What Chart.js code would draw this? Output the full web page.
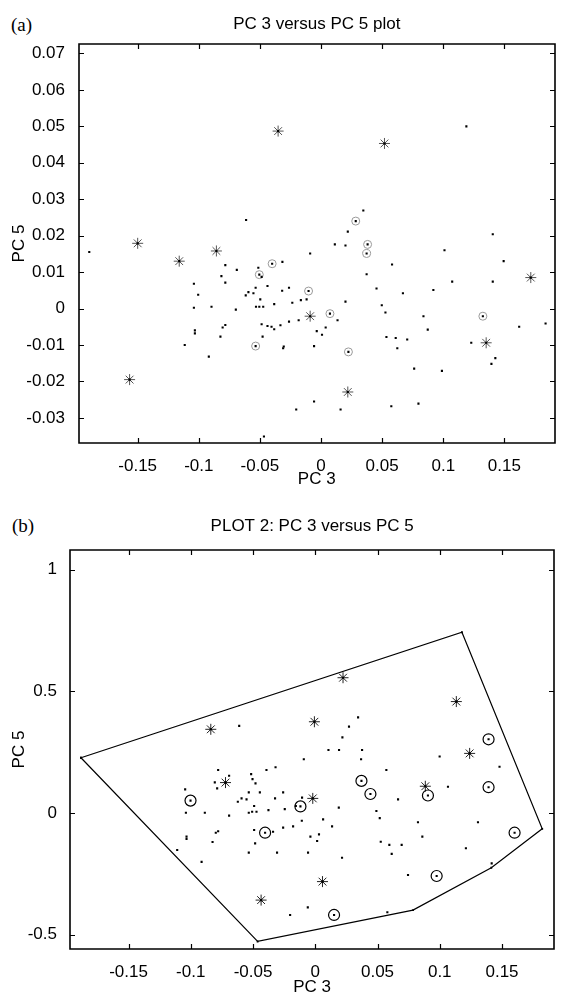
<!DOCTYPE html>
<html><head><meta charset="utf-8">
<script src="https://cdn.jsdelivr.net/npm/chart.js@4"></script>
<style>
html,body{margin:0;padding:0;background:#fff;}
body{width:561px;height:999px;position:relative;overflow:hidden;}
.wrap{position:absolute;left:0;width:561px;}
.tag{position:absolute;font-family:"Liberation Serif","Times New Roman",serif;font-size:19px;color:#000;line-height:1;}
</style></head><body>
<div class="tag" style="left:11px;top:15px">(a)</div>
<div class="wrap" style="top:0;height:490px"><canvas id="ca" width="561" height="490"></canvas></div>
<div class="tag" style="left:12px;top:516px">(b)</div>
<div class="wrap" style="top:490px;height:509px"><canvas id="cb" width="561" height="509"></canvas></div>
<script>
// ---------- Plot (a) data ----------
const aTitle = 'PC 3 versus PC 5 plot';
const aXTicks = [-0.15, -0.1, -0.05, 0, 0.05, 0.1, 0.15];
const aXLabels = ['-0.15', '-0.1', '-0.05', '0', '0.05', '0.1', '0.15'];
const aYTicks = [-0.03, -0.02, -0.01, 0, 0.01, 0.02, 0.03, 0.04, 0.05, 0.06, 0.07];
const aYLabels = ['-0.03', '-0.02', '-0.01', '0', '0.01', '0.02', '0.03', '0.04', '0.05', '0.06', '0.07'];
const aStars = [[-0.150,0.0179],[-0.116,0.0130],[-0.0856,0.0158],[-0.1566,-0.0195],[-0.0351,0.0487],
  [0.0519,0.0453],[0.1716,0.0085],[-0.0089,-0.0021],[0.1351,-0.0094],[0.0219,-0.0229]];
const aCircled = [[-0.0535,-0.0103],[-0.0505,0.0093],[-0.040,0.0123],[0.0284,0.0240],[0.0381,0.0176],
  [0.0373,0.0151],[-0.0102,0.0048],[0.0073,-0.0014],[0.0224,-0.0119],[0.1324,-0.0021]];
const aDots = [[-0.1896,0.0155],[-0.0613,0.0243],[-0.0783,0.0119],[-0.0815,0.0089],[-0.0783,0.0071],
  [-0.0689,0.0106],[-0.104,0.0068],[-0.1005,0.0038],[-0.104,0.0002],[-0.0896,0.0005],[-0.0697,-0.0003],
  [-0.1032,-0.0060],[-0.1032,-0.0068],[-0.1115,-0.0100],[-0.0783,-0.0045],[-0.0805,-0.0052],[-0.0823,-0.0077],
  [-0.0918,-0.0132],[-0.0486,0.0087],[-0.0513,0.0112],[-0.0438,0.0062],[-0.0535,0.0057],[-0.0594,0.0045],
  [-0.0616,0.0036],[-0.0553,0.0042],[-0.0497,0.0025],[-0.0532,0.0005],[-0.0505,0.0005],[-0.0473,0.0005],
  [-0.0383,0.0012],[-0.0486,-0.0043],[-0.0438,-0.0048],[-0.0405,-0.0050],[-0.0383,-0.0057],[-0.0478,-0.0077],
  [-0.0467,-0.0351],[0.0219,0.0211],[0.0113,0.0176],[0.0200,0.0173],[-0.0089,0.0151],[-0.0316,0.0128],
  [0.0373,0.0094],[0.0581,0.0121],[0.1010,0.0160],[0.1405,0.0204],[0.1494,0.0130],[0.1073,0.0074],
  [0.1405,0.0074],[0.0919,0.0051],[0.0670,0.0042],[0.0454,0.0055],[-0.0318,0.0049],[-0.0262,0.0057],
  [-0.0118,0.0025],[-0.0165,0.0023],[-0.0235,0.0016],[0.0200,0.0019],[0.0497,0.0009],[0.0527,-0.0011],
  [0.0135,-0.0032],[0.0038,-0.0052],[-0.0035,-0.0062],[0.0008,-0.0072],[-0.0183,-0.0032],[-0.0262,-0.0036],
  [-0.0332,-0.0046],[-0.0305,-0.0104],[-0.0310,-0.0109],[-0.0057,-0.0103],[0.0535,-0.0078],[0.0611,-0.0081],
  [0.0705,-0.0085],[0.0624,-0.0109],[0.0838,-0.0021],[0.0873,-0.0058],[0.0762,-0.0165],[0.0989,-0.0171],
  [0.1229,-0.0094],[0.1426,-0.0136],[0.1394,-0.0152],[0.1621,-0.0050],[0.1837,-0.0041],[-0.0057,-0.0255],
  [-0.0203,-0.0277],[0.0160,-0.0277],[0.0575,-0.0268],[0.0797,-0.0261],[0.1189,0.0500],[0.0346,0.0269]];

// ---------- Plot (b) data ----------
const bTitle = 'PLOT 2: PC 3 versus PC 5';
const bXTicks = [-0.15, -0.1, -0.05, 0, 0.05, 0.1, 0.15];
const bXLabels = ['-0.15', '-0.1', '-0.05', '0', '0.05', '0.1', '0.15'];
const bYTicks = [-0.5, 0, 0.5, 1];
const bYLabels = ['-0.5', '0', '0.5', '1'];
const bHull = [[-0.1882,0.227],[0.1178,0.743],[0.1823,-0.065],[0.1414,-0.225],[0.0785,-0.399],
  [-0.0463,-0.528],[-0.1882,0.227]];
const bStars = [[-0.0839,0.344],[-0.0007,0.375],[0.0223,0.556],[0.1133,0.458],[-0.0721,0.125],
  [0.124,0.245],[0.0884,0.110],[-0.002,0.060],[0.0058,-0.282],[-0.0435,-0.358]];
const bCircled = [[-0.1002,0.051],[0.1392,0.303],[0.0371,0.132],[0.1392,0.106],[0.0443,0.078],
  [0.0905,0.072],[-0.0119,0.027],[-0.0403,-0.081],[0.1601,-0.081],[0.0975,-0.259],[0.0151,-0.419]];
const bDots = [[-0.0611,0.358],[0.0106,0.259],[0.0191,0.259],[0.0376,0.259],[-0.0092,0.221],[-0.0319,0.188],
  [-0.0392,0.177],[-0.0515,0.160],[-0.0504,0.139],[-0.048,0.122],[-0.078,0.177],[-0.0692,0.153],
  [-0.0807,0.126],[-0.0788,0.101],[-0.1045,0.097],[0.0344,0.393],[0.0271,0.355],[0.0218,0.311],
  [0.0368,0.221],[0.0571,0.177],[0.0999,0.232],[0.148,0.190],[0.1066,0.108],[-0.1039,0.001],
  [-0.0887,0.001],[-0.0692,-0.011],[-0.0534,0.085],[-0.0445,0.085],[-0.0258,0.085],[-0.0592,0.060],
  [-0.0622,0.046],[-0.0552,0.056],[-0.0491,0.029],[-0.0534,0.001],[-0.0507,0.005],[-0.0472,0.005],
  [-0.0376,0.012],[-0.0323,0.060],[-0.0245,0.016],[-0.0156,0.029],[-0.0106,0.063],[0.0189,0.022],
  [-0.0108,-0.032],[0.0063,-0.026],[0.0135,-0.055],[-0.0178,-0.055],[-0.0258,-0.060],[-0.0339,-0.077],
  [-0.0491,-0.070],[-0.0039,-0.097],[0.003,-0.088],[0.0015,-0.115],[-0.0483,-0.125],[-0.078,-0.075],
  [-0.0799,-0.081],[-0.1034,-0.097],[-0.1034,-0.107],[-0.0825,-0.119],[-0.1109,-0.152],[-0.0913,-0.201],
  [-0.0534,-0.163],[-0.0307,-0.163],[-0.0058,-0.163],[-0.006,-0.388],[-0.0202,-0.419],[0.0665,0.056],
  [0.0491,0.008],[0.0518,-0.021],[0.0825,-0.038],[0.086,-0.097],[0.1307,-0.038],[0.0526,-0.118],
  [0.0595,-0.131],[0.0694,-0.131],[0.0614,-0.168],[0.0215,-0.184],[0.121,-0.145],[0.1417,-0.207],
  [0.0745,-0.255],[0.0579,-0.408]];

// ---------- helpers ----------
const FONT = '"Liberation Sans", Arial, Helvetica, sans-serif';
const pts = arr => arr.map(p => ({x: p[0], y: p[1]}));

// MATLAB-style box with inward tick marks on all four sides
const boxTicks = {
  id: 'boxTicks',
  afterDraw(chart) {
    const ctx = chart.ctx, a = chart.chartArea, x = chart.scales.x, y = chart.scales.y;
    const L = 5;
    const l = Math.round(a.left), r = Math.round(a.right), t = Math.round(a.top), b = Math.round(a.bottom);
    ctx.save();
    ctx.strokeStyle = '#000';
    ctx.lineWidth = 1.6;
    ctx.lineCap = 'square';
    ctx.beginPath();
    ctx.moveTo(l, t); ctx.lineTo(r, t); ctx.lineTo(r, b); ctx.lineTo(l, b); ctx.closePath();
    ctx.stroke();
    ctx.lineWidth = 1.2;
    ctx.lineCap = 'butt';
    ctx.beginPath();
    x.ticks.forEach(tk => {
      const px = Math.round(x.getPixelForValue(tk.value)) + 0.5;
      ctx.moveTo(px, b); ctx.lineTo(px, b - L);
      ctx.moveTo(px, t); ctx.lineTo(px, t + L);
    });
    y.ticks.forEach(tk => {
      const py = Math.round(y.getPixelForValue(tk.value)) + 0.5;
      ctx.moveTo(l, py); ctx.lineTo(l + L, py);
      ctx.moveTo(r, py); ctx.lineTo(r - L, py);
    });
    ctx.stroke();
    ctx.restore();
  }
};

function makeChart(id, cfg) {
  const datasets = [];
  if (cfg.hull) {
    datasets.push({type: 'line', data: pts(cfg.hull), showLine: true, borderColor: '#000', borderWidth: 1.2,
      fill: false, tension: 0, pointRadius: 1.3, pointStyle: 'rect', pointBackgroundColor: '#000', pointBorderWidth: 0});
  }
  datasets.push({data: pts(cfg.dots.concat(cfg.circled, cfg.stars)), pointStyle: 'rect', pointRadius: 1.5,
    backgroundColor: '#000', borderWidth: 0});
  datasets.push({data: pts(cfg.circled), pointStyle: 'circle', pointRadius: cfg.circR,
    backgroundColor: 'rgba(0,0,0,0)', borderColor: cfg.circColor, borderWidth: cfg.circW});
  datasets.push({data: pts(cfg.stars), pointStyle: 'star', pointRadius: 5.5,
    backgroundColor: 'rgba(0,0,0,0)', borderColor: cfg.starColor, borderWidth: 1});
  return new Chart(document.getElementById(id), {
    type: 'scatter',
    data: {datasets},
    options: {
      responsive: false, animation: false, devicePixelRatio: 1,
      layout: {padding: {left: 0, right: cfg.padRight, top: 0, bottom: 0}},
      plugins: {
        legend: {display: false}, tooltip: {enabled: false},
        title: {display: true, text: cfg.title, fullSize: false, color: '#000',
          font: {family: FONT, size: 17, weight: 'normal', lineHeight: 1.2},
          padding: {top: cfg.titleTop, bottom: cfg.titleBottom}}
      },
      scales: {
        x: {type: 'linear', position: 'bottom', min: cfg.xMin, max: cfg.xMax,
          grid: {display: false}, border: {display: false},
          afterBuildTicks: s => { s.ticks = cfg.xTicks.map(v => ({value: v})); },
          ticks: {callback: (v, i) => cfg.xLabels[i], color: '#000', font: {family: FONT, size: 17},
            padding: cfg.xTickPad, maxRotation: 0, autoSkip: false},
          title: {display: true, text: 'PC 3', color: '#000', font: {family: FONT, size: 17},
            padding: {top: 0, bottom: cfg.xTitleBottom}},
          afterFit: s => { s.height = cfg.xH; s.paddingLeft = 0; s.paddingRight = 0; }
        },
        y: {type: 'linear', position: 'left', min: cfg.yMin, max: cfg.yMax,
          grid: {display: false}, border: {display: false},
          afterBuildTicks: s => { s.ticks = cfg.yTicks.map(v => ({value: v})); },
          ticks: {callback: (v, i) => cfg.yLabels[i], color: '#000', font: {family: FONT, size: 17},
            padding: cfg.yTickPad, autoSkip: false},
          title: {display: true, text: 'PC 5', color: '#000', font: {family: FONT, size: 17},
            padding: {top: 9, bottom: 0}},
          afterFit: s => { s.width = cfg.yW; s.paddingTop = 0; s.paddingBottom = 0; }
        }
      }
    },
    plugins: [boxTicks]
  });
}

makeChart('ca', {
  title: aTitle, titleTop: 14, titleBottom: 9.6,
  xMin: -0.198, xMax: 0.191, yMin: -0.0369, yMax: 0.0726,
  xTicks: aXTicks, xLabels: aXLabels, yTicks: aYTicks, yLabels: aYLabels,
  dots: aDots, circled: aCircled, stars: aStars,
  circR: 4, circColor: '#9a9a9a', circW: 1, starColor: '#555',
  padRight: -2, yW: 79, xH: 47, xTickPad: 5, yTickPad: 6, xTitleBottom: 0
});

makeChart('cb', {
  title: bTitle, titleTop: 25.8, titleBottom: 13.8,
  xMin: -0.197, xMax: 0.192, yMin: -0.559, yMax: 1.081,
  xTicks: bXTicks, xLabels: bXLabels, yTicks: bYTicks, yLabels: bYLabels,
  dots: bDots, circled: bCircled, stars: bStars, hull: bHull,
  circR: 5.5, circColor: '#000', circW: 1.2, starColor: '#222',
  padRight: 5, yW: 70, xH: 50, xTickPad: 5, yTickPad: 5, xTitleBottom: 1
});
</script>
</body></html>
